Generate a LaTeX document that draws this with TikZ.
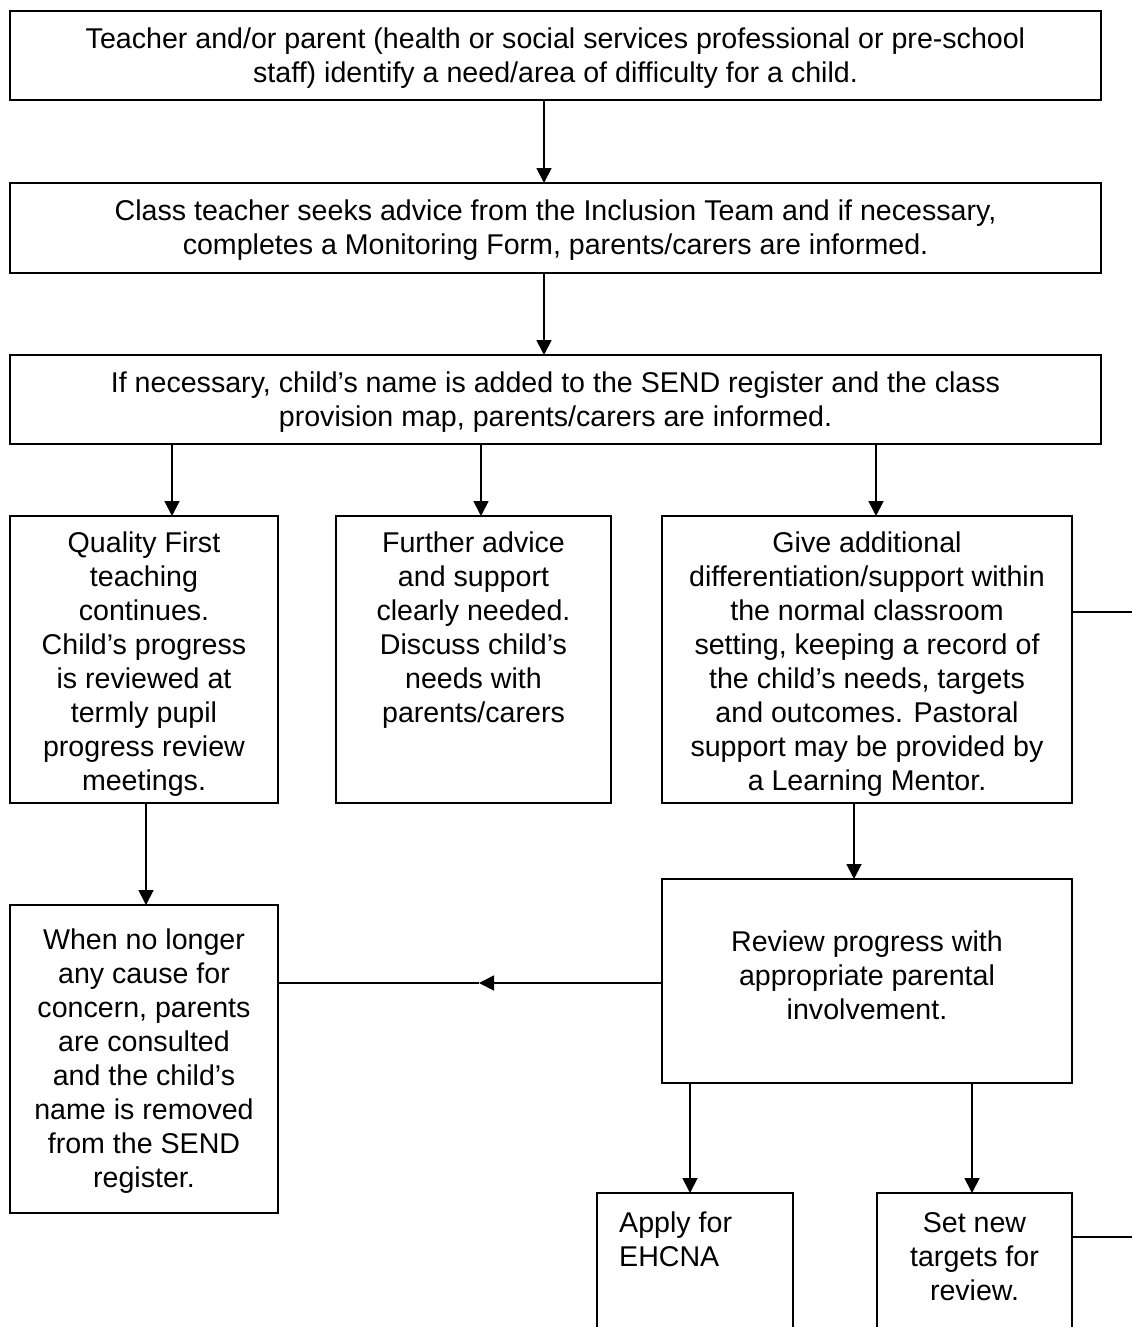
\documentclass[tikz,border=0pt]{standalone}
\usepackage{fontspec}
\setmainfont{Liberation Sans}
\usetikzlibrary{arrows.meta}
\tikzset{
  box/.style={draw, line width=1.8pt, inner sep=0pt, outer sep=0pt, anchor=north west},
  txt/.style={inner sep=0pt, anchor=base, font=\fontsize{28.6}{34}\selectfont},
  arr/.style={line width=1.8pt, -{Triangle[length=15pt,width=15pt]}},
  ln/.style={line width=1.8pt},
  thinln/.style={line width=1.2pt},
}
\begin{document}
\begin{tikzpicture}[x=1pt,y=-1pt]
\clip (0,0) rectangle (1132,1327);
\fill[white] (0,0) rectangle (1132,1327);
% boxes
\node[box, minimum width=1091pt, minimum height=89pt] (b1) at (10,11) {};
\node[box, minimum width=1091pt, minimum height=90pt] (b2) at (10,183) {};
\node[box, minimum width=1091pt, minimum height=89pt] (b3) at (10,355) {};
\node[box, minimum width=268pt, minimum height=287pt] (bA) at (10,516) {};
\node[box, minimum width=275pt, minimum height=287pt] (bB) at (336,516) {};
\node[box, minimum width=410pt, minimum height=287pt] (bC) at (662,516) {};
\node[box, minimum width=268pt, minimum height=308pt] (bD) at (10,905) {};
\node[box, minimum width=410pt, minimum height=204pt] (bE) at (662,879) {};
\node[box, minimum width=196pt, minimum height=160pt] (bF) at (597,1193) {};
\node[box, minimum width=195pt, minimum height=160pt] (bG) at (877,1193) {};
% texts
\node[txt] (t1) at (555.5,49) {\parbox[t]{1080pt}{\centering Teacher and/or parent (health or social services professional or pre-school\\ staff) identify a need/area of difficulty for a child.}};
\node[txt] (t2) at (555.5,220) {\parbox[t]{1080pt}{\centering Class teacher seeks advice from the Inclusion Team and if necessary,\\ completes a Monitoring Form, parents/carers are informed.}};
\node[txt] (t3) at (555.5,392) {\parbox[t]{1080pt}{\centering If necessary, child’s name is added to the SEND register and the class\\ provision map, parents/carers are informed.}};
\node[txt] (tA) at (144,552) {\parbox[t]{264pt}{\centering Quality First\\ teaching\\ continues.\\ Child’s progress\\ is reviewed at\\ termly pupil\\ progress review\\ meetings.}};
\node[txt] (tB) at (473.5,552) {\parbox[t]{270pt}{\centering Further advice\\ and support\\ clearly needed.\\ Discuss child’s\\ needs with\\ parents/carers}};
\node[txt] (tC) at (867,552) {\parbox[t]{405pt}{\centering Give additional\\ differentiation/support within\\ the normal classroom\\ setting, keeping a record of\\ the child’s needs, targets\\ and outcomes. Pastoral\\ support may be provided by\\ a Learning Mentor.}};
\node[txt] (tD) at (144,949) {\parbox[t]{264pt}{\centering When no longer\\ any cause for\\ concern, parents\\ are consulted\\ and the child’s\\ name is removed\\ from the SEND\\ register.}};
\node[txt] (tE) at (867,951) {\parbox[t]{405pt}{\centering Review progress with\\ appropriate parental\\ involvement.}};
\node[txt, anchor=base west] (tF) at (619,1232) {\parbox[t]{170pt}{\raggedright Apply for\\ EHCNA}};
\node[txt] (tG) at (974.5,1232) {\parbox[t]{190pt}{\centering Set new\\ targets for\\ review.}};
% connectors
\draw[arr] (b1.south -| 544,0) -- (b2.north -| 544,0);
\draw[arr] (b2.south -| 544,0) -- (b3.north -| 544,0);
\draw[arr] (b3.south -| 172,0) -- (bA.north -| 172,0);
\draw[arr] (b3.south -| 481,0) -- (bB.north -| 481,0);
\draw[arr] (b3.south -| 876,0) -- (bC.north -| 876,0);
\draw[arr] (bA.south -| 146,0) -- (bD.north -| 146,0);
\draw[arr] (bC.south -| 854,0) -- (bE.north -| 854,0);
\draw[arr] (bE.south -| 690,0) -- (bF.north -| 690,0);
\draw[arr] (bE.south -| 972,0) -- (bG.north -| 972,0);
\coordinate (m) at (479,983);
\draw[arr] (bE.west |- m) -- (m);
\draw[thinln] (m) -- (bD.east |- m);
\coordinate (r1) at (1132,612);
\coordinate (r2) at (1132,1237);
\draw[ln] (bC.east |- r1) -- (r1);
\draw[ln] (bG.east |- r2) -- (r2);
\end{tikzpicture}
\end{document}
